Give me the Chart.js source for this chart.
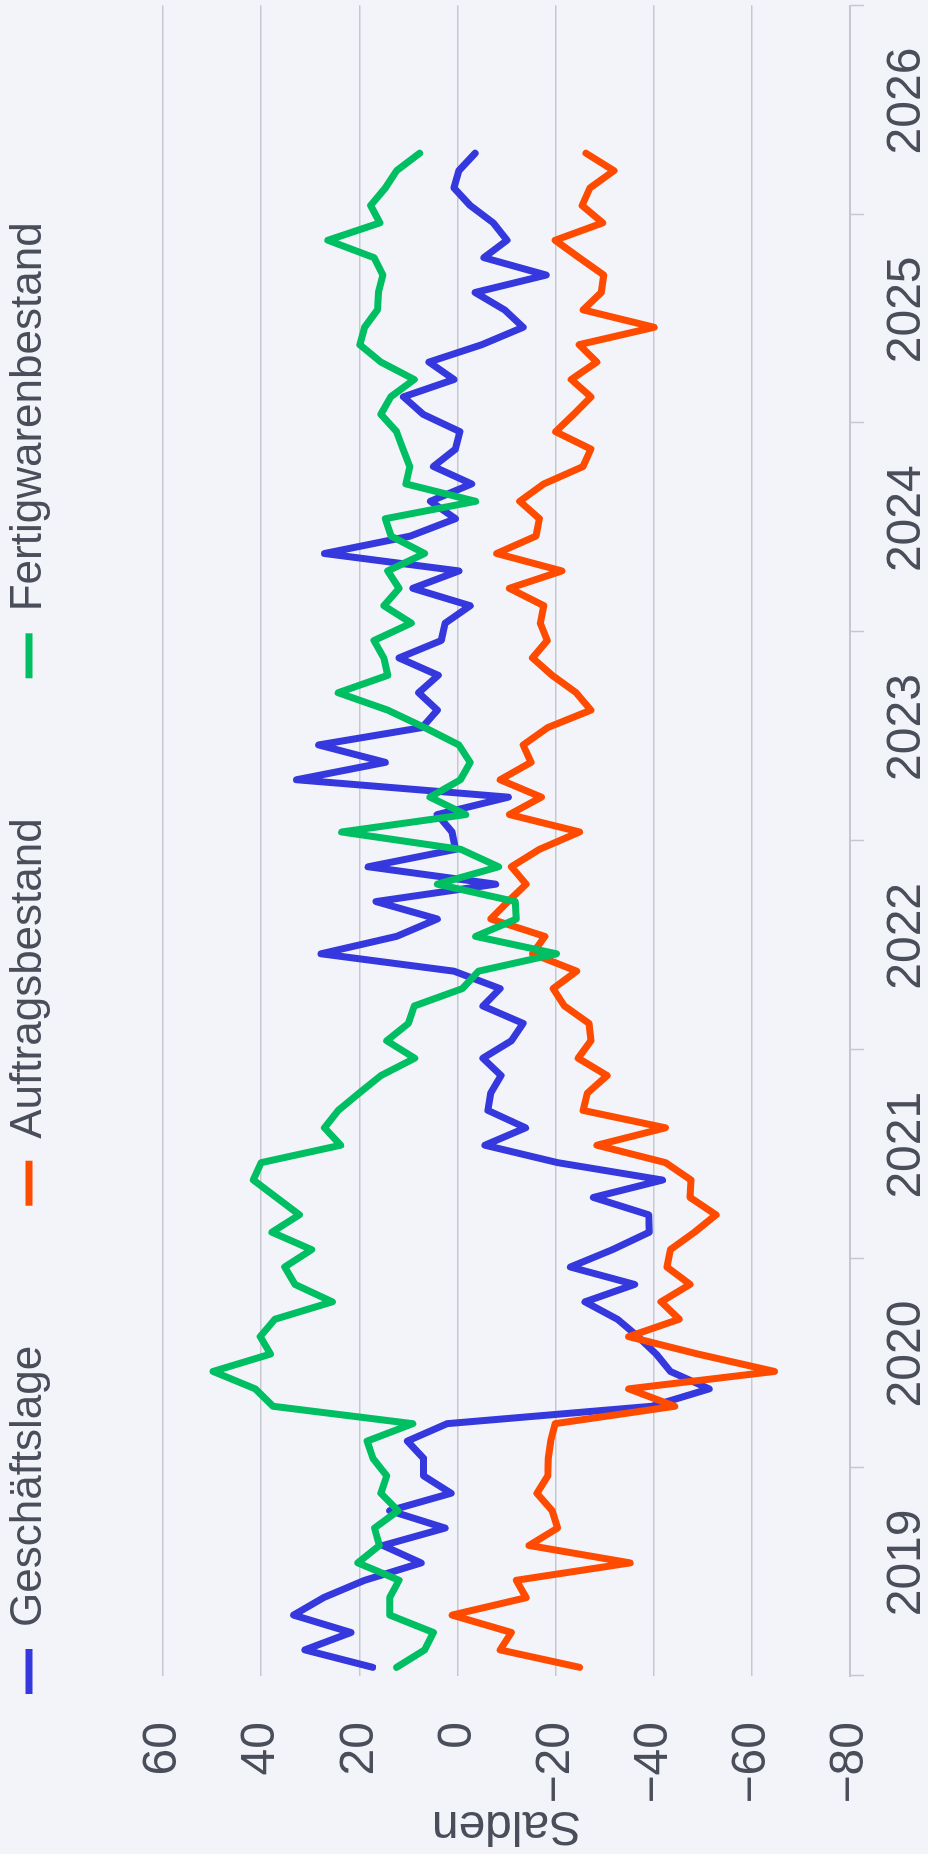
<!DOCTYPE html>
<html>
<head>
<meta charset="utf-8">
<script src="https://cdn.jsdelivr.net/npm/chart.js@4.4.1/dist/chart.umd.min.js"></script>
<style>
html, body { margin: 0; padding: 0; background: #f3f4f9; width: 928px; height: 1854px; overflow: hidden; }
#wrap { position: absolute; left: 0; top: 0; width: 1854px; height: 928px;
        transform-origin: 0 0; transform: translateY(1854px) rotate(-90deg); }
canvas { display: block; }
</style>
</head>
<body>
<div id="wrap"><canvas id="c" width="1854" height="928"></canvas></div>
<script>
// ---- data ----
const years = [2019, 2020, 2021, 2022, 2023, 2024, 2025, 2026];
const monthNames = ['01','02','03','04','05','06','07','08','09','10','11','12'];
const seriesNames = ['Geschäftslage', 'Auftragsbestand', 'Fertigwarenbestand'];
const yTickValues = [-80, -60, -40, -20, 0, 20, 40, 60];
const yTitle = 'Salden';

// monthly values, Jan 2019 ... Apr 2026
const geschaeftslage = [
  17.3, 31.1, 21.7, 33.4, 27.3, 18.9, 7.4, 15.2, 2.5, 13.8, 1.3, 6.9,
  6.9, 10.2, 2.1, -39.6, -51.3, -43.4, -40.5, -36.8, -32.6, -26.0, -36.1, -23.0,
  -31.6, -39.1, -39.0, -27.7, -41.8, -20.4, -5.6, -13.9, -6.2, -6.8, -8.9, -5.2,
  -11.0, -13.4, -5.2, -8.7, 0.7, 27.8, 12.4, 4.1, 16.6, -7.8, 18.2, 0.4,
  1.1, 4.1, -10.4, 32.8, 14.7, 28.3, 7.2, 4.1, 7.9, 3.9, 11.9, 3.3,
  2.5, -2.6, 9.1, -0.3, 27.1, 9.6, 0.4, 5.5, -2.9, 4.9, 0.4, -0.5,
  7.0, 11.0, 0.7, 5.8, -5.0, -13.4, -9.6, -3.6, -18.1, -5.4, -10.1, -7.3,
  -2.6, 0.7, -0.3, -3.6
];
const auftragsbestand = [
  -24.9, -8.7, -11.0, 1.1, -14.0, -12.0, -35.2, -14.6, -20.4, -19.3, -16.2, -18.4,
  -18.5, -19.0, -19.9, -44.3, -34.9, -64.6, -49.0, -34.9, -45.2, -41.5, -47.4, -42.7,
  -43.4, -48.3, -52.7, -47.4, -47.6, -42.4, -28.4, -42.4, -25.6, -26.5, -30.5, -24.6,
  -27.2, -26.8, -21.8, -19.5, -24.3, -15.3, -17.8, -6.8, -10.3, -14.0, -11.0, -16.7,
  -24.9, -10.6, -17.1, -8.7, -15.0, -13.4, -18.4, -27.2, -24.2, -19.3, -15.3, -18.3,
  -16.9, -17.6, -10.6, -21.3, -8.0, -16.0, -16.7, -12.7, -17.6, -25.6, -27.2, -20.0,
  -23.7, -27.2, -23.2, -28.4, -24.8, -40.1, -25.6, -29.3, -29.8, -24.8, -19.9, -29.6,
  -25.4, -27.0, -31.9, -26.2
];
const fertigwarenbestand = [
  12.4, 6.7, 4.9, 13.8, 13.8, 11.9, 20.3, 15.9, 16.9, 12.1, 15.6, 14.4,
  17.2, 18.4, 9.1, 37.6, 41.2, 49.8, 38.1, 40.2, 37.2, 25.5, 33.1, 35.2,
  29.7, 37.8, 32.2, 36.9, 41.6, 40.0, 23.8, 27.1, 24.3, 20.0, 15.6, 8.7,
  14.4, 10.0, 8.8, -1.0, -4.3, -20.2, -3.7, -12.0, -11.8, 4.1, -8.4, -0.7,
  23.6, -1.7, 5.6, -0.6, -2.6, -0.3, 6.7, 14.2, 24.3, 14.2, 15.0, 17.0,
  9.4, 15.0, 11.9, 14.2, 6.7, 13.5, 14.7, -3.7, 10.5, 9.7, 11.1, 12.4,
  15.6, 13.6, 8.8, 15.6, 19.9, 18.9, 16.3, 16.1, 15.2, 17.0, 26.4, 15.8,
  17.7, 14.7, 12.4, 7.7
];

// ---- styles ----
const COLORS = { blue: '#3538dd', orange: '#ff4b00', green: '#00be62' };
const TEXT = '#4a4e5a';
const GRID = '#c5c8d1';
const FONT = '"Liberation Sans", Arial, Helvetica, sans-serif';

// category labels: one per month over the shown years
const categories = [];
years.forEach(y => monthNames.forEach(m => categories.push(y + '-' + m)));

const LEGEND_PAD = 140;
const LEGEND_H = 296;

const legendFit = {
  id: 'legendFit',
  beforeLayout(chart) {
    const lg = chart.legend;
    if (lg && !lg._fitPatched) {
      const orig = lg.fit;
      lg.fit = function () { orig.call(this); this.height = LEGEND_H; };
      lg._fitPatched = true;
    }
  }
};

const lineDs = (label, data, color) => ({
  label, data,
  borderColor: color, backgroundColor: color,
  borderWidth: 7, pointRadius: 0, pointHoverRadius: 0,
  tension: 0, borderCapStyle: 'round', borderJoinStyle: 'round', fill: false
});

new Chart(document.getElementById('c'), {
  type: 'line',
  data: {
    labels: categories,
    datasets: [
      lineDs(seriesNames[2], fertigwarenbestand, COLORS.green),
      lineDs(seriesNames[1], auftragsbestand, COLORS.orange),
      lineDs(seriesNames[0], geschaeftslage, COLORS.blue)
    ]
  },
  options: {
    responsive: false,
    animation: false,
    devicePixelRatio: 1,
    layout: { padding: { left: 20, right: 2, top: -133, bottom: 0 } },
    plugins: {
      tooltip: { enabled: false },
      legend: {
        display: true,
        position: 'top',
        align: 'start',
        reverse: true,
        labels: {
          usePointStyle: true,
          pointStyle: 'line',
          pointStyleWidth: 45,
          boxWidth: 45,
          padding: LEGEND_PAD,
          color: TEXT,
          font: { family: FONT, size: 44 }
        }
      }
    },
    scales: {
      x: {
        type: 'category',
        offset: true,
        afterFit(s) { s.height = 78; },
        grid: {
          offset: true,
          drawOnChartArea: false,
          drawTicks: true,
          tickLength: 14,
          tickWidth: 1.5,
          tickColor: (c) => (c.index === undefined || c.index % 12 === 0) ? GRID : 'rgba(0,0,0,0)'
        },
        border: { display: true, color: GRID, width: 2 },
        ticks: {
          autoSkip: false,
          minRotation: 0,
          maxRotation: 0,
          padding: 14,
          color: TEXT,
          font: { family: FONT, size: 48 },
          callback: (v, i) => (i % 12 === 6) ? String(years[Math.floor(i / 12)]) : ''
        }
      },
      y: {
        type: 'linear',
        min: yTickValues[0],
        max: yTickValues[yTickValues.length - 1],
        afterFit(s) { s.width = 158; },
        afterBuildTicks(s) { s.ticks = yTickValues.map(v => ({ value: v })); },
        grid: { color: GRID, lineWidth: 1.5, drawTicks: false },
        border: { display: false },
        ticks: {
          padding: 46,
          color: TEXT,
          font: { family: FONT, size: 48 },
          callback: (v) => v < 0 ? '\u2212' + Math.abs(v) : String(v)
        },
        title: {
          display: true,
          text: yTitle,
          color: TEXT,
          font: { family: FONT, size: 48 },
          padding: { top: -20, bottom: 0 }
        }
      }
    }
  },
  plugins: [legendFit]
});
</script>
</body>
</html>
